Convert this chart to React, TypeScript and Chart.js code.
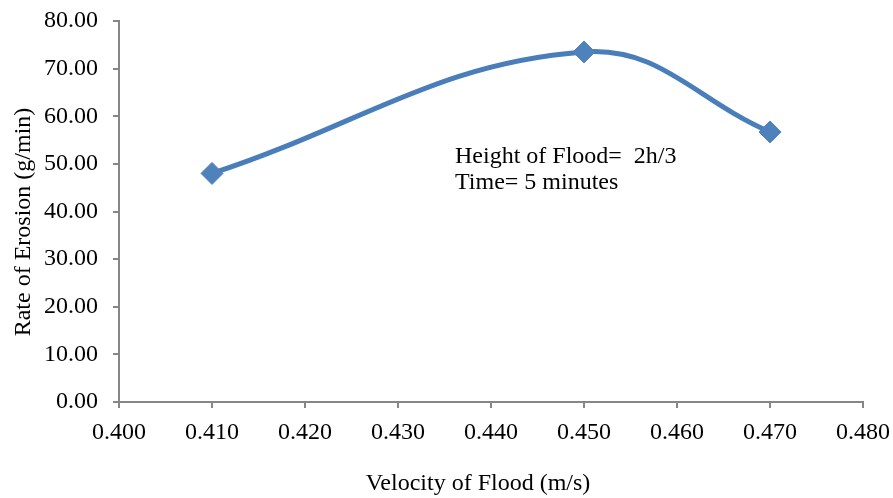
import React, { useEffect, useRef } from "react";
import { Chart, registerables } from "chart.js";

Chart.register(...registerables);

const velocity = [0.41, 0.45, 0.47];
const erosionRate = [48.0, 73.5, 56.7];
const annotationLines = ["Height of Flood=  2h/3", "Time= 5 minutes"];
const xTitle = "Velocity of Flood (m/s)";
const yTitle = "Rate of Erosion (g/min)";

const FONT = "'Liberation Serif', 'Times New Roman', serif";
const AXIS = "#868686";
const BLUE = "#4A7EBB";

const textPlugin = {
  id: "texts",
  afterDraw(chart: any) {
    const { ctx } = chart;
    ctx.save();
    ctx.fillStyle = "#000";
    ctx.font = `24px ${FONT}`;
    ctx.textAlign = "left";
    ctx.textBaseline = "alphabetic";
    annotationLines.forEach((t, i) => ctx.fillText(t, 455, 163 + i * 26));
    ctx.textAlign = "center";
    ctx.textBaseline = "middle";
    ctx.fillText(xTitle, 478, 484);
    ctx.translate(24, 222);
    ctx.rotate(-Math.PI / 2);
    ctx.fillText(yTitle, 0, 0);
    ctx.restore();
  },
};

export default function App() {
  const ref = useRef<HTMLCanvasElement>(null);
  useEffect(() => {
    const chart = new Chart(ref.current!, {
      type: "scatter",
      data: {
        datasets: [
          {
            data: velocity.map((v, i) => ({ x: v, y: erosionRate[i] })),
            showLine: true,
            borderColor: BLUE,
            borderWidth: 5,
            tension: 0.4,
            pointStyle: "rectRot",
            pointRadius: 11,
            pointBackgroundColor: "#4F81BD",
            pointBorderColor: "#4F81BD",
            pointBorderWidth: 1,
          },
        ],
      },
      options: {
        animation: false,
        responsive: false,
        layout: { padding: { top: 21, right: 30, left: 0, bottom: 0 } },
        plugins: { legend: { display: false }, tooltip: { enabled: false } },
        scales: {
          x: {
            type: "linear",
            min: 0.4,
            max: 0.48,
            afterFit(s: any) {
              s.height = 96;
              s.paddingLeft = 0;
              s.paddingRight = 0;
            },
            ticks: {
              stepSize: 0.01,
              color: "#000",
              font: { family: FONT, size: 24 },
              padding: 10,
              maxRotation: 0,
              callback: (v: any) => Number(v).toFixed(3),
            },
            grid: { drawOnChartArea: false, drawTicks: true, tickLength: 6, color: AXIS, lineWidth: 2 },
            border: { color: AXIS, width: 2 },
          },
          y: {
            min: 0,
            max: 80,
            afterFit(s: any) {
              s.width = 119;
              s.paddingTop = 0;
              s.paddingBottom = 0;
            },
            ticks: {
              stepSize: 10,
              color: "#000",
              font: { family: FONT, size: 24 },
              padding: 15,
              callback: (v: any) => Number(v).toFixed(2),
            },
            grid: { drawOnChartArea: false, drawTicks: true, tickLength: 6, color: AXIS, lineWidth: 2 },
            border: { color: AXIS, width: 2 },
          },
        },
      },
      plugins: [textPlugin],
    });
    return () => chart.destroy();
  }, []);
  return (
    <div style={{ position: "fixed", left: 0, top: 0, width: 893, height: 498, background: "#fff" }}>
      <canvas ref={ref} width={893} height={498} style={{ width: 893, height: 498 }} />
    </div>
  );
}
